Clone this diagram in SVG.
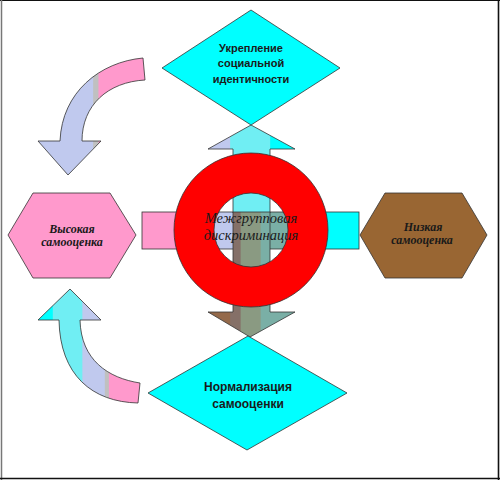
<svg xmlns="http://www.w3.org/2000/svg" width="500" height="480" viewBox="0 0 500 480">
<style>
.shape{stroke:#333;stroke-width:0.8;stroke-linejoin:miter}
.dtext{font-family:"Liberation Sans",Arial,sans-serif;font-weight:bold;fill:#1a1a1a;text-anchor:middle}
.itext{font-family:"Liberation Serif","Times New Roman",serif;font-style:italic;fill:#1a1a1a;text-anchor:middle}
</style>
<defs>
<linearGradient id="gUp" gradientUnits="userSpaceOnUse" x1="208" y1="0" x2="295" y2="0">
<stop offset="0" stop-color="#c0c9ee"/><stop offset="0.25" stop-color="#c0c9ee"/>
<stop offset="0.26" stop-color="#70eef3"/><stop offset="0.71" stop-color="#70eef3"/>
<stop offset="0.72" stop-color="#00ffff"/><stop offset="1" stop-color="#00ffff"/>
</linearGradient>
<linearGradient id="gDown" gradientUnits="userSpaceOnUse" x1="208" y1="0" x2="295" y2="0">
<stop offset="0" stop-color="#94694a"/><stop offset="0.25" stop-color="#94694a"/>
<stop offset="0.26" stop-color="#857068"/><stop offset="0.37" stop-color="#857068"/>
<stop offset="0.38" stop-color="#8a9a82"/><stop offset="0.6" stop-color="#8a9a82"/>
<stop offset="0.61" stop-color="#7aafa6"/><stop offset="1" stop-color="#7aafa6"/>
</linearGradient>
<linearGradient id="gBar" gradientUnits="userSpaceOnUse" x1="142" y1="0" x2="359" y2="0">
<stop offset="0" stop-color="#ff99cc"/><stop offset="0.27" stop-color="#ff99cc"/>
<stop offset="0.28" stop-color="#c0c9ee"/><stop offset="0.45" stop-color="#c0c9ee"/>
<stop offset="0.55" stop-color="#7aafa6"/><stop offset="0.68" stop-color="#7aafa6"/>
<stop offset="0.69" stop-color="#00ffff"/><stop offset="1" stop-color="#00ffff"/>
</linearGradient>
<linearGradient id="gCurveTop" gradientUnits="userSpaceOnUse" x1="38" y1="0" x2="145" y2="0">
<stop offset="0" stop-color="#c0c9ee"/><stop offset="0.51" stop-color="#c0c9ee"/>
<stop offset="0.52" stop-color="#c0c0c0"/><stop offset="0.56" stop-color="#c0c0c0"/>
<stop offset="0.57" stop-color="#ff99cc"/><stop offset="1" stop-color="#ff99cc"/>
</linearGradient>
<linearGradient id="gCurveBot" gradientUnits="userSpaceOnUse" x1="38" y1="0" x2="140" y2="0">
<stop offset="0" stop-color="#00ffff"/><stop offset="0.14" stop-color="#00ffff"/>
<stop offset="0.15" stop-color="#70eef3"/><stop offset="0.43" stop-color="#70eef3"/>
<stop offset="0.44" stop-color="#c0c9ee"/><stop offset="0.65" stop-color="#c0c9ee"/>
<stop offset="0.66" stop-color="#c0c0c0"/><stop offset="0.69" stop-color="#c0c0c0"/>
<stop offset="0.7" stop-color="#ff99cc"/><stop offset="1" stop-color="#ff99cc"/>
</linearGradient>
</defs>

<g id="frame" fill="none">
<line x1="0" y1="0.5" x2="500" y2="0.5" stroke="#111" stroke-width="1.2"/>
<line x1="1.5" y1="0" x2="1.5" y2="480" stroke="#777" stroke-width="1.5"/>
<line x1="498.5" y1="0" x2="498.5" y2="480" stroke="#111" stroke-width="1.6"/>
<line x1="0" y1="478.5" x2="500" y2="478.5" stroke="#111" stroke-width="1.6"/>
</g>

<g id="connectors">
<path class="shape" fill="url(#gCurveTop)" d="M143,58 C100,62 62,92 60,141 L38,141 L68,175 L101,141 L82,141 C82,105 108,82 145,80 Z"/>
<path class="shape" fill="url(#gCurveBot)" d="M70,289 L38,320 L59,320 C60,375 92,402 138,403 L140,383 C108,378 81,360 80,320 L101,320 Z"/>
<rect class="shape" x="142" y="212" width="217" height="37" fill="url(#gBar)"/>
<path class="shape" fill="url(#gUp)" d="M251,125 L295,149 L270,149 L270,213 L233,213 L233,149 L208,149 Z"/>
<path class="shape" fill="url(#gDown)" d="M233,212 L270,212 L270,312 L295,312 L250,337 L208,312 L233,312 Z"/>
</g>

<g id="node-top">
<polygon class="shape" fill="#00ffff" points="251,10 340,68 251,125 162,68"/>
<text class="dtext" font-size="11" x="251" y="52">Укрепление</text>
<text class="dtext" font-size="11" x="251" y="67">социальной</text>
<text class="dtext" font-size="11" x="251" y="83">идентичности</text>
</g>

<g id="node-bottom">
<polygon class="shape" fill="#00ffff" points="248,336 347,393 247,450 148,393"/>
<text class="dtext" font-size="12" x="248" y="391">Нормализация</text>
<text class="dtext" font-size="12" x="248" y="408">самооценки</text>
</g>

<g id="node-left">
<polygon class="shape" fill="#ff99cc" points="8,235 33,193 110,193 136,235 110,278 33,278"/>
<text class="itext" font-weight="bold" font-size="12" x="72" y="233">Высокая</text>
<text class="itext" font-weight="bold" font-size="12" x="72" y="246">самооценка</text>
</g>

<g id="node-right">
<polygon class="shape" fill="#996633" points="360,235 385,193 462,193 487,235 462,278 385,278"/>
<text class="itext" font-weight="bold" font-size="12" x="423" y="231">Низкая</text>
<text class="itext" font-weight="bold" font-size="12" x="422" y="244">самооценка</text>
</g>

<g id="node-center">
<path class="shape" fill="#ff0000" fill-rule="evenodd" d="M174,230 A77,77 0 1 0 328,230 A77,77 0 1 0 174,230 Z M214,230 A37,37 0 1 1 288,230 A37,37 0 1 1 214,230 Z"/>
<text class="itext" font-size="14.5" x="251" y="223">Межгрупповая</text>
<text class="itext" font-size="14.5" x="251" y="240">дискриминация</text>
</g>
</svg>
